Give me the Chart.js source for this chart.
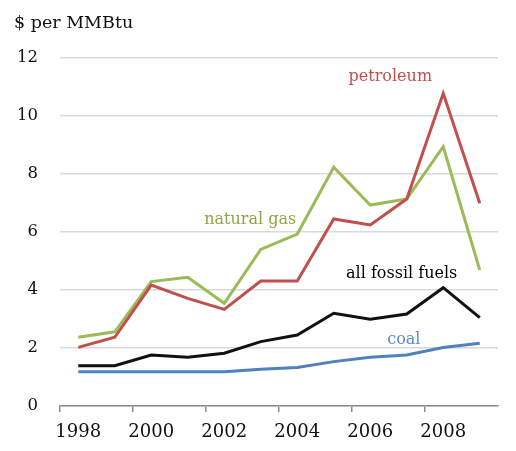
<!DOCTYPE html>
<html>
<head>
<meta charset="utf-8">
<script src="https://cdn.jsdelivr.net/npm/chart.js@4"></script>
<style>
  html, body { margin: 0; padding: 0; background: #fff; }
  #wrap { width: 516px; height: 451px; }
</style>
</head>
<body>
<div id="wrap"><canvas id="fuelChart" width="516" height="451"></canvas></div>
<script>
const years = ['1998', '1999', '2000', '2001', '2002', '2003', '2004', '2005', '2006', '2007', '2008', '2009'];
const naturalGas = [2.37, 2.56, 4.29, 4.44, 3.54, 5.40, 5.93, 8.23, 6.93, 7.14, 8.94, 4.69];
const petroleum = [2.02, 2.37, 4.17, 3.71, 3.33, 4.31, 4.31, 6.45, 6.24, 7.14, 10.78, 6.99];
const allFossil = [1.39, 1.39, 1.76, 1.68, 1.82, 2.22, 2.45, 3.20, 2.99, 3.17, 4.08, 3.05];
const coal = [1.18, 1.18, 1.18, 1.18, 1.18, 1.27, 1.33, 1.53, 1.68, 1.76, 2.02, 2.16];
const yTicks = [0, 2, 4, 6, 8, 10, 12];

const serif = '"DejaVu Serif", serif';

// series names written next to the lines, placed in chart units
const seriesLabels = [
  { text: 'petroleum', x: 8.55, y: 11.36, color: '#c0504d' },
  { text: 'natural gas', x: 4.71, y: 6.43, color: '#8aa646' },
  { text: 'all fossil fuels', x: 8.86, y: 4.57, color: '#000' },
  { text: 'coal', x: 8.92, y: 2.27, color: '#5b8bc9' },
];

const textPlugin = {
  id: 'texts',
  afterDraw(chart) {
    const c = chart.ctx;
    const xs = chart.scales.x;
    const ys = chart.scales.y;
    c.save();
    c.font = '17.5px ' + serif;
    c.fillStyle = '#111';
    c.textAlign = 'left';
    c.textBaseline = 'middle';
    c.fillText('$ per MMBtu', 14, 23);
    c.font = '16px ' + serif;
    c.textAlign = 'center';
    seriesLabels.forEach((l) => {
      c.fillStyle = l.color;
      c.fillText(l.text, xs.getPixelForValue(l.x), ys.getPixelForValue(l.y));
    });
    c.restore();
  }
};

function line(data, color) {
  return {
    data,
    borderColor: color,
    backgroundColor: color,
    borderWidth: 3,
    pointRadius: 0,
    tension: 0,
    fill: false,
  };
}

new Chart(document.getElementById('fuelChart'), {
  type: 'line',
  data: {
    labels: years,
    datasets: [
      line(coal, '#4f81bd'),
      line(allFossil, '#111111'),
      line(petroleum, '#c0504d'),
      line(naturalGas, '#9bbb59'),
    ],
  },
  options: {
    responsive: false,
    animation: false,
    layout: { padding: { top: 58, right: 18, left: 0, bottom: 0 } },
    plugins: {
      legend: { display: false },
      tooltip: { enabled: false },
    },
    scales: {
      x: {
        offset: true,
        grid: {
          offset: true,
          drawOnChartArea: false,
          tickLength: 6,
          lineWidth: 1.5,
          color: (ctx) => (ctx.index % 2 === 0 ? '#8c8c8c' : 'rgba(0,0,0,0)'),
        },
        border: { display: true, color: '#8c8c8c', width: 1.5 },
        ticks: {
          autoSkip: false,
          maxRotation: 0,
          color: '#111',
          font: { family: serif, size: 18 },
          padding: 10,
          callback: (v, i) => (i % 2 === 0 ? years[i] : ''),
        },
        afterFit: (s) => { s.height = 45; },
      },
      y: {
        min: 0,
        max: 12,
        afterBuildTicks: (s) => { s.ticks = yTicks.map((v) => ({ value: v })); },
        grid: { color: '#d9d9d9', lineWidth: 1.5, drawTicks: false },
        border: { display: false },
        ticks: {
          color: '#111',
          font: { family: serif, size: 16.5 },
          padding: 22,
        },
        afterFit: (s) => { s.width = 60; },
      },
    },
  },
  plugins: [textPlugin],
});
</script>
</body>
</html>
